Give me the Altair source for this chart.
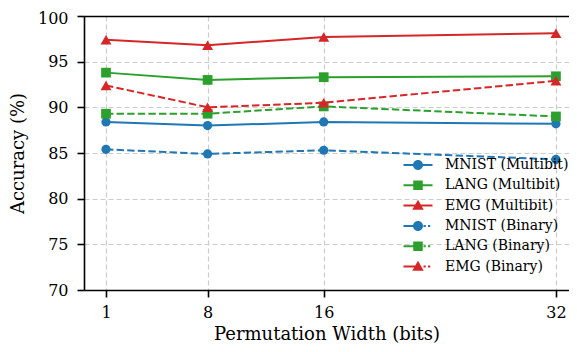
import altair as alt
import pandas as pd

# ---- data ----
widths = [1, 8, 16, 32]
series_names = [
    "MNIST (Multibit)", "LANG (Multibit)", "EMG (Multibit)",
    "MNIST (Binary)", "LANG (Binary)", "EMG (Binary)",
]
mnist_multibit = [88.4, 88.0, 88.4, 88.2]
lang_multibit = [93.8, 93.0, 93.3, 93.4]
emg_multibit = [97.4, 96.8, 97.7, 98.1]
mnist_binary = [85.4, 84.9, 85.3, 84.3]
lang_binary = [89.3, 89.3, 90.1, 89.0]
emg_binary = [92.4, 90.0, 90.5, 92.9]
y_ticks = [70, 75, 80, 85, 90, 95, 100]

series_values = [mnist_multibit, lang_multibit, emg_multibit,
                 mnist_binary, lang_binary, emg_binary]

# ---- styles ----
BLUE, GREEN, RED = "#1f77b4", "#2ca02c", "#d62728"
colors = [BLUE, GREEN, RED, BLUE, GREEN, RED]
marker_shapes = ["circle", "square", "triangle-up"] * 2
marker_sizes = [85, 95, 120] * 2
dashed = [False, False, False, True, True, True]

# legend glyphs (line + marker), unit = 5px at symbolSize 100
solid_line = "M-2.9,-0.2H2.9V0.2H-2.9Z"
dash_line = "M-2.9,-0.2H0V0.2H-2.9Z M1.1,-0.2H1.55V0.2H1.1Z M2.0,-0.2H2.45V0.2H2.0Z"
circle_p = "M1,0A1,1,0,1,1,-1,0A1,1,0,1,1,1,0Z"
square_p = "M-0.95,-0.95H0.95V0.95H-0.95Z"
tri_p = "M0,-1.15L1.15,0.85H-1.15Z"
markers_p = [circle_p, square_p, tri_p] * 2
legend_paths = [
    (dash_line if d else solid_line) + " " + m for d, m in zip(dashed, markers_p)
]

rows = []
for name, vals in zip(series_names, series_values):
    for w, v in zip(widths, vals):
        rows.append({"series": name, "width": w, "acc": v})
df = pd.DataFrame(rows)

FONT = "DejaVu Serif"
W, H = 485, 274
x_scale = alt.Scale(domain=[-0.516, 32.9], nice=False, zero=False)

x_enc = alt.X(
    "width:Q",
    scale=x_scale,
    axis=alt.Axis(
        values=widths, title="Permutation Width (bits)", format="d",
        grid=True, gridDash=[5, 3], gridColor="#cccccc", gridWidth=1.2,
        domainColor="black", domainWidth=1.6, tickColor="black",
        tickWidth=1.6, tickSize=7, labelFontSize=16, labelColor="black",
        labelPadding=7, labelFont=FONT, titleFont=FONT, titleFontSize=18,
        titleFontWeight="normal", titleColor="black", titleY=44,
        titleBaseline="middle",
    ),
)
x_top = alt.X(
    "width:Q",
    scale=x_scale,
    axis=alt.Axis(
        orient="top", title=None, labels=False, ticks=False, grid=False,
        domain=True, domainColor="black", domainWidth=1.6,
    ),
)
y_enc = alt.Y(
    "acc:Q",
    scale=alt.Scale(domain=[70, 100], nice=False, zero=False),
    axis=alt.Axis(
        values=y_ticks, title="Accuracy (%)", format="d",
        grid=True, gridDash=[5, 3], gridColor="#cccccc", gridWidth=1.2,
        domainColor="black", domainWidth=1.6, tickColor="black",
        tickWidth=1.6, tickSize=7, labelFontSize=16, labelColor="black",
        labelPadding=9, labelFont=FONT, titleFont=FONT, titleFontSize=18,
        titleFontWeight="normal", titleColor="black", titleX=-66,
        titleY=H / 2, titleBaseline="middle",
        labelOffset={"condition": {"test": "datum.value == 100", "value": 2}, "value": 0},
    ),
)

legend_def = alt.Legend(
    title=None, orient="none", legendX=327, legendY=142,
    symbolSize=100, symbolStrokeWidth=0, symbolOpacity=1,
    labelFont=FONT, labelFontSize=14, labelColor="black",
    labelOffset=20, rowPadding=6.3, padding=0,
)

base = alt.Chart(df)

legend_layer = base.mark_point(filled=True, opacity=0).encode(
    x=x_top, y=y_enc,
    color=alt.Color("series:N", scale=alt.Scale(domain=series_names, range=colors),
                    legend=legend_def, sort=series_names),
    shape=alt.Shape("series:N", scale=alt.Scale(domain=series_names, range=legend_paths),
                    legend=legend_def, sort=series_names),
)

series_layers = []
for name, col, shp, sz, d in zip(series_names, colors, marker_shapes, marker_sizes, dashed):
    sub = base.transform_filter(alt.datum.series == name)
    if d:
        line = sub.mark_line(color=col, strokeWidth=2, strokeDash=[7.4, 3.2])
    else:
        line = sub.mark_line(color=col, strokeWidth=2)
    pts = sub.mark_point(shape=shp, filled=True, size=sz, color=col, opacity=1)
    series_layers.append(line.encode(x=x_enc, y=y_enc))
    series_layers.append(pts.encode(x=x_enc, y=y_enc))

chart = (
    alt.layer(legend_layer, alt.layer(*series_layers))
    .resolve_axis(x="independent")
    .properties(
        width=W, height=H,
        padding={"left": 76, "top": 8, "right": 0, "bottom": 54},
        autosize=alt.AutoSizeParams(type="none"),
    )
    .configure(font=FONT)
    .configure_view(strokeWidth=0)
)

chart.save("out.html", embed_options={"renderer": "svg", "actions": False})
